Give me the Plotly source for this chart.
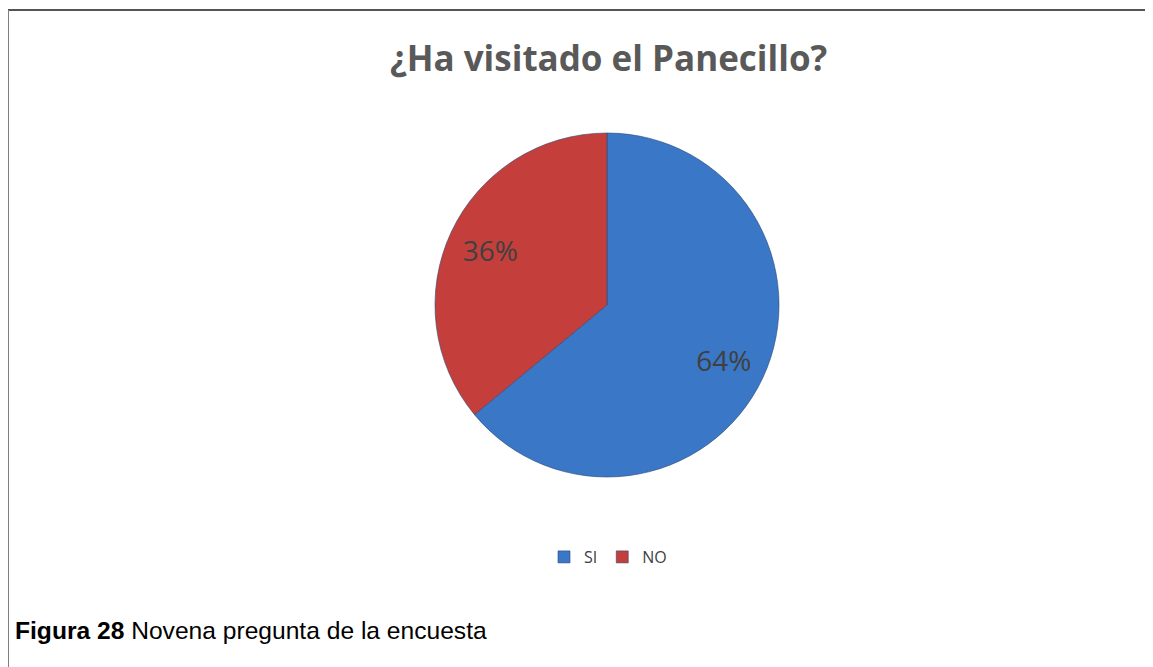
import plotly.graph_objects as go

# survey answers
labels = ["SI", "NO"]
values = [64, 36]
colors = ["#3A77C6", "#C43F3C"]

W, H = 1153, 667
OFF = 8  # page body margin


def px_x(v):
    return (v - OFF) / W


def px_y(v):
    return 1 - (v - OFF) / H


pie_domain = dict(x=[px_x(435), px_x(779)], y=[px_y(477), px_y(133)])

fig = go.Figure()

# filled pie
fig.add_trace(go.Pie(
    labels=labels,
    values=values,
    sort=False,
    direction="clockwise",
    rotation=0,
    marker=dict(colors=colors, line=dict(color="#2E4A70", width=0.6)),
    textinfo="none",
    domain=pie_domain,
    hoverinfo="label+percent",
))

# transparent ring on top only to place the percent labels further out
fig.add_trace(go.Pie(
    labels=labels,
    values=values,
    sort=False,
    direction="clockwise",
    rotation=0,
    hole=0.5,
    marker=dict(colors=["rgba(0,0,0,0)"] * len(values), line=dict(width=0)),
    texttemplate="%{percent:.0%}",
    textposition="inside",
    insidetextorientation="horizontal",
    textfont=dict(family="Open Sans", size=28, color="#404040"),
    domain=pie_domain,
    showlegend=False,
    hoverinfo="skip",
))

fig.update_layout(
    width=W,
    height=H,
    margin=dict(l=0, r=0, t=0, b=0),
    paper_bgcolor="white",
    plot_bgcolor="white",
    showlegend=True,
    legend=dict(
        orientation="h",
        x=px_x(608), xanchor="center",
        y=px_y(557), yanchor="middle",
        font=dict(family="Open Sans", size=16, color="#404040"),
        itemwidth=30,
        traceorder="normal",
    ),
    annotations=[
        dict(text="<b>¿Ha visitado el Panecillo?</b>", x=px_x(608), y=px_y(58),
             xref="paper", yref="paper", showarrow=False,
             xanchor="center", yanchor="middle",
             font=dict(family="Open Sans", size=35, color="#595959")),
        dict(text="<b>Figura 28</b> Novena pregunta de la encuesta", x=px_x(13), y=px_y(630),
             xref="paper", yref="paper", showarrow=False,
             xanchor="left", yanchor="middle",
             font=dict(family="Liberation Sans", size=24.6, color="#000000")),
    ],
    shapes=[
        dict(type="line", xref="paper", yref="paper", x0=px_x(8), x1=1, y0=px_y(10), y1=px_y(10),
             line=dict(color="#555555", width=2)),
        dict(type="line", xref="paper", yref="paper", x0=px_x(8), x1=px_x(8), y0=px_y(10), y1=0,
             line=dict(color="#808080", width=2)),
    ],
)

fig.write_html("out.html")
